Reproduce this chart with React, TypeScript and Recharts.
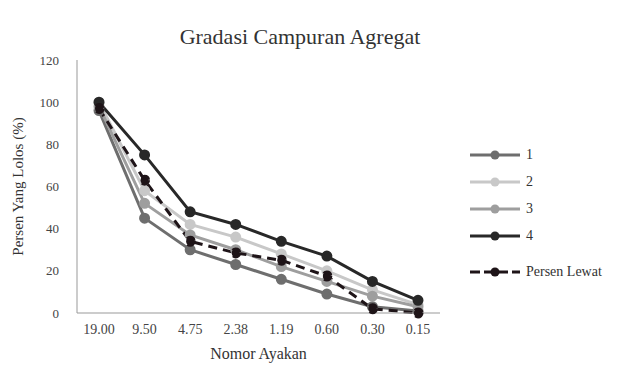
import { Line, LineChart, XAxis, YAxis } from "recharts";

const sieves = ["19.00", "9.50", "4.75", "2.38", "1.19", "0.60", "0.30", "0.15"];
const mix1 = [96, 45, 30, 23, 16, 9, 3, 1];
const mix2 = [100, 58, 42, 36, 28, 20, 11, 4];
const mix3 = [98, 52, 37, 30, 22, 15, 8, 3];
const mix4 = [100, 75, 48, 42, 34, 27, 15, 6];
const lewat = [97, 63, 34, 28.5, 25, 17.5, 2, 0];
const yTicks = [0, 20, 40, 60, 80, 100, 120];

const data = sieves.map((s, i) => ({
  sieve: s,
  s1: mix1[i],
  s2: mix2[i],
  s3: mix3[i],
  s4: mix4[i],
  lewat: lewat[i],
}));

const font = "Liberation Serif, Times New Roman, serif";

const series = [
  { key: "s1", name: "1", color: "#6e6e6e", dash: undefined },
  { key: "s2", name: "2", color: "#c8c8c8", dash: undefined },
  { key: "s3", name: "3", color: "#9e9e9e", dash: undefined },
  { key: "s4", name: "4", color: "#282828", dash: undefined },
  { key: "lewat", name: "Persen Lewat", color: "#1e1418", dash: "9 6" },
];

function LegendBox() {
  return (
    <div
      style={{
        position: "absolute",
        left: 468,
        top: 143,
        fontFamily: font,
        fontSize: 14,
        color: "#333",
      }}
    >
      {series.map((s, i) => (
        <div
          key={s.key}
          style={{
            display: "flex",
            alignItems: "center",
            height: 24,
            marginBottom: i === 3 ? 12 : 3,
          }}
        >
          <svg width={54} height={12}>
            <line
              x1={2}
              x2={52}
              y1={6}
              y2={6}
              stroke={s.color}
              strokeWidth={3}
              strokeDasharray={s.dash ? "10 4" : undefined}
            />
            <circle cx={27} cy={6} r={4.5} fill={s.color} />
          </svg>
          <span style={{ marginLeft: 4 }}>{s.name}</span>
        </div>
      ))}
    </div>
  );
}

export default function App() {
  return (
    <div style={{ position: "absolute", left: 0, top: 0, width: 618, height: 370, background: "#fff", fontFamily: font }}>
      <div
        style={{
          position: "absolute",
          top: 24,
          left: 0,
          width: 600,
          textAlign: "center",
          fontFamily: font,
          fontSize: 22,
          color: "#333",
        }}
      >
        Gradasi Campuran Agregat
      </div>
      <LineChart
        width={618}
        height={370}
        data={data}
        margin={{ top: 60, right: 178, left: 20, bottom: 7 }}
        style={{ fontFamily: font }}
      >
        <XAxis
          dataKey="sieve"
          height={50}
          interval={0}
          padding={{ left: 22, right: 22 }}
          stroke="#999"
          tickLine={false}
          tick={{ fill: "#444", fontSize: 14, fontFamily: font }}
          tickMargin={5}
          label={{
            value: "Nomor Ayakan",
            position: "insideBottom",
            offset: 4,
            fill: "#333",
            fontSize: 16,
            fontFamily: font,
          }}
        />
        <YAxis
          width={57}
          domain={[0, 120]}
          ticks={yTicks}
          stroke="#999"
          tickLine={false}
          tick={{ fill: "#444", fontSize: 13, fontFamily: font }}
          tickMargin={12}
          label={{
            value: "Persen Yang Lolos (%)",
            angle: -90,
            position: "insideLeft",
            offset: -2,
            style: { textAnchor: "middle" },
            fill: "#333",
            fontSize: 15,
            fontFamily: font,
          }}
        />
        {series.map((s) => (
          <Line
            key={s.key}
            dataKey={s.key}
            name={s.name}
            stroke={s.color}
            strokeWidth={3}
            strokeDasharray={s.dash}
            dot={{ r: 4, fill: s.color, stroke: s.color }}
            isAnimationActive={false}
          />
        ))}
      </LineChart>
      <LegendBox />
    </div>
  );
}
